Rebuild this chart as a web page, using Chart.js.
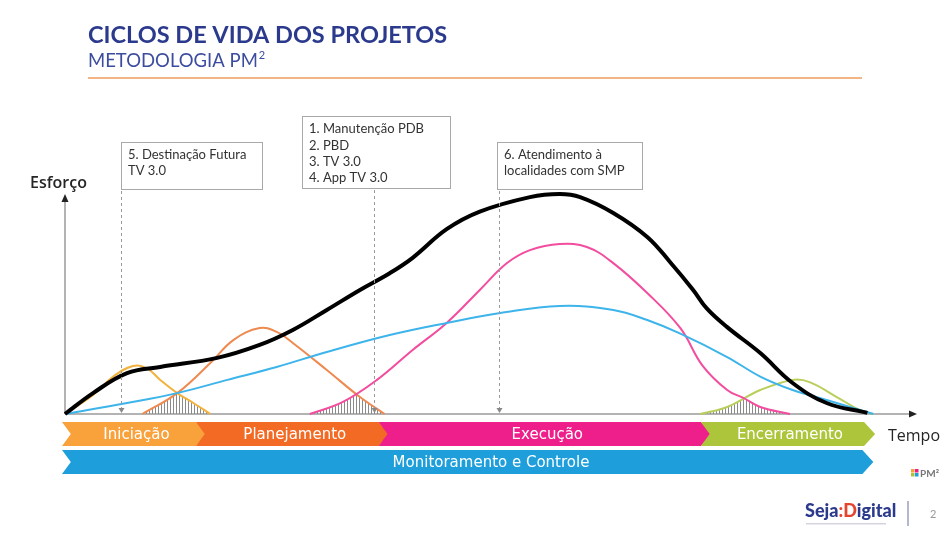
<!DOCTYPE html>
<html>
<head>
<meta charset="utf-8">
<script src="https://cdn.jsdelivr.net/npm/chart.js@4"></script>
<style>
  html, body { margin: 0; padding: 0; background: #fff; }
  canvas { display: block; }
</style>
</head>
<body>
<canvas id="ciclo" width="946" height="539"></canvas>
<script>
// [tempo, esforço] on a 0-100 / 0-100 grid
const esforcoTotal = [[0,0],[3.3,9.5],[7.3,18.6],[11.2,21.4],[17.9,25.5],[22.9,31.4],[26.8,38.2],[30.8,47.3],[34.7,56.4],[38.2,64],[40.9,71],[44.9,84],[48.8,92],[54.7,98.6],[58.2,100],[60.6,98.6],[64.5,91.4],[68.5,80.5],[71.2,69],[73.9,56.4],[75.5,48],[77.9,39.5],[81.8,27.7],[85.6,14.1],[89.6,5],[94.4,0.5]];
const monitoramento = [[0,0],[7.3,5],[13.2,9.5],[19.1,15.5],[24.9,21.4],[30.8,28.2],[38.2,35.9],[44.9,41.4],[51.2,45.9],[58.2,49.1],[64.5,47.3],[68.5,42.7],[72.4,36.5],[77.9,25.9],[81.8,17],[85.6,10.9],[89.6,6.4],[95.1,0]];
const execucao = [[28.8,0],[32.7,5.5],[36.7,15.5],[40.9,29.1],[44.9,41.4],[48.8,56.4],[52,68.6],[54.7,74.5],[58.2,77.3],[61.4,75.9],[64.5,68.6],[68.5,55],[72.4,39],[75,22],[77.9,10.9],[79.8,7.3],[81.8,3.2],[85.3,0]];
const planejamento = [[9.1,0],[13.2,9.5],[17.1,23.2],[19.8,33.6],[22.9,39.1],[24.9,37.3],[26.8,32.3],[30.8,20],[34.7,7.7],[37.6,0]];
const iniciacao = [[0,0],[3.3,8.6],[5.6,16.8],[8,21.8],[9.6,20.9],[11.2,15.5],[13.2,9.5],[15.1,5],[17.1,0]];
const encerramento = [[74.7,0],[77.9,3.2],[81.8,10.9],[85.6,15.5],[87.6,14.5],[90.8,7.7],[93.5,1.8],[95.1,0]];

// phase bar
const fases = ["Iniciação", "Planejamento", "Execução", "Encerramento"];
const inicioFases = -0.35;
const fimFases = [16.7, 38.2, 76.1, 95.3];
const coresFases = ["#F9A23B", "#F26A24", "#EE1F8B", "#ADC53B"];
const controle = "Monitoramento e Controle";
const fimControle = 95.1;

// notes and the moments they point at
const marcos = [6.6, 36.4, 51.1];
const notas = [
  ["5. Destinação Futura", "TV 3.0"],
  ["1. Manutenção PDB", "2. PBD", "3. TV 3.0", "4. App TV 3.0"],
  ["6. Atendimento à", "localidades com SMP"]
];
const caixas = [
  { x: 121, y: 142, w: 141, h: 47 },
  { x: 302, y: 116, w: 148, h: 72 },
  { x: 497, y: 142, w: 145, h: 47 }
];

// overlaps shaded with vertical hatching (dataset indexes)
const sobreposicoes = [[4, 3], [3, 2], [2, 5]];

const toPts = arr => arr.map(p => ({ x: p[0], y: p[1] }));

const serie = (dados, cor, largura) => ({
  data: toPts(dados),
  borderColor: cor,
  borderWidth: largura,
  pointRadius: 0,
  tension: 0.4,
  fill: false,
  clip: false
});

const slide = {
  id: "slide",
  beforeDraw(chart) {
    const ctx = chart.ctx;
    const a = chart.chartArea;
    ctx.save();
    ctx.fillStyle = "#fff";
    ctx.fillRect(0, 0, chart.width, chart.height);

    ctx.textBaseline = "middle";
    ctx.fillStyle = "#2B3A8C";
    ctx.font = "bold 23.5px Lato";
    ctx.fillText("CICLOS DE VIDA DOS PROJETOS", 88, 35);
    ctx.fillStyle = "#3C4C9E";
    ctx.font = "18.5px Lato";
    ctx.fillText("METODOLOGIA PM", 88, 61);
    const w = ctx.measureText("METODOLOGIA PM").width;
    ctx.font = "11px Lato";
    ctx.fillText("2", 88 + w + 1, 55);

    ctx.strokeStyle = "#F4B586";
    ctx.lineWidth = 2;
    ctx.beginPath();
    ctx.moveTo(88, 78);
    ctx.lineTo(862, 78);
    ctx.stroke();

    // axes
    ctx.strokeStyle = "#9a9a9a";
    ctx.lineWidth = 1.5;
    ctx.beginPath();
    ctx.moveTo(a.left, a.bottom);
    ctx.lineTo(a.left, a.top + 6);
    ctx.moveTo(a.left, a.bottom);
    ctx.lineTo(a.right - 4, a.bottom);
    ctx.stroke();
    ctx.fillStyle = "#222";
    ctx.beginPath();
    ctx.moveTo(a.left, a.top);
    ctx.lineTo(a.left - 3.5, a.top + 8);
    ctx.lineTo(a.left + 3.5, a.top + 8);
    ctx.closePath();
    ctx.fill();
    ctx.beginPath();
    ctx.moveTo(a.right + 2, a.bottom);
    ctx.lineTo(a.right - 6, a.bottom - 3.5);
    ctx.lineTo(a.right - 6, a.bottom + 3.5);
    ctx.closePath();
    ctx.fill();

    ctx.fillStyle = "#262626";
    ctx.font = "600 16px 'Open Sans'";
    ctx.fillText("Esforço", 30, 183);
    ctx.font = "16px 'Open Sans'";
    ctx.fillText("Tempo", 888, 436);

    // footer
    ctx.font = "900 18px Lato";
    let x = 805;
    const partes = [["Seja", "#2B3A8C"], [":D", "#E5452F"], ["igital", "#2B3A8C"]];
    partes.forEach(([t, c]) => {
      ctx.fillStyle = c;
      ctx.fillText(t, x, 511);
      x += ctx.measureText(t).width;
    });
    ctx.fillStyle = "#d4d4e0";
    ctx.fillRect(806, 523, 80, 1.5);
    ctx.strokeStyle = "#9aa0c0";
    ctx.lineWidth = 1.5;
    ctx.beginPath();
    ctx.moveTo(908, 501);
    ctx.lineTo(908, 526);
    ctx.stroke();
    ctx.fillStyle = "#999";
    ctx.font = "11px Lato";
    ctx.fillText("2", 930, 514);

    // PM2 mark
    const q = [["#F9A23B", 0, 0], ["#EE1F8B", 4, 0], ["#ADC53B", 0, 4], ["#1E9FDB", 4, 4]];
    q.forEach(([c, dx, dy]) => { ctx.fillStyle = c; ctx.fillRect(911 + dx, 469 + dy, 3.5, 3.5); });
    ctx.fillStyle = "#777";
    ctx.font = "bold 10px Lato";
    ctx.fillText("PM²", 920, 474);
    ctx.restore();
  },
  beforeDatasetsDraw(chart) {
    const ctx = chart.ctx;
    const a = chart.chartArea;
    sobreposicoes.forEach(([i, j]) => {
      ctx.save();
      [i, j].forEach(k => {
        const meta = chart.getDatasetMeta(k);
        const line = meta.dataset;
        line.updateControlPoints(a);
        const pts = meta.data;
        ctx.beginPath();
        line.path(ctx);
        ctx.lineTo(pts[pts.length - 1].x, a.bottom);
        ctx.lineTo(pts[0].x, a.bottom);
        ctx.closePath();
        ctx.clip();
      });
      ctx.strokeStyle = "#8a8a8a";
      ctx.lineWidth = 1;
      ctx.beginPath();
      for (let x = a.left + 0.5; x < a.right; x += 3) {
        ctx.moveTo(x, a.top);
        ctx.lineTo(x, a.bottom);
      }
      ctx.stroke();
      ctx.restore();
    });
  },
  afterDraw(chart) {
    const ctx = chart.ctx;
    const a = chart.chartArea;
    const xs = chart.scales.x;
    ctx.save();

    // phase chevrons
    const d = 11;
    const seta = (x0, x1, top, h, cor) => {
      ctx.beginPath();
      ctx.moveTo(x0, top);
      ctx.lineTo(x1 - d, top);
      ctx.lineTo(x1, top + h / 2);
      ctx.lineTo(x1 - d, top + h);
      ctx.lineTo(x0, top + h);
      ctx.lineTo(x0 + d * 0.8, top + h / 2);
      ctx.closePath();
      ctx.fillStyle = cor;
      ctx.fill();
    };
    ctx.font = "15px 'DejaVu Sans'";
    ctx.textAlign = "center";
    ctx.textBaseline = "middle";
    let x0 = xs.getPixelForValue(inicioFases);
    fases.forEach((f, i) => {
      const x1 = xs.getPixelForValue(fimFases[i]);
      seta(x0, x1, 422, 24, coresFases[i]);
      ctx.fillStyle = "#fff";
      ctx.fillText(f, (x0 + x1) / 2 + 2, 435);
      x0 = x1 - d;
    });
    const c0 = xs.getPixelForValue(inicioFases);
    const c1 = xs.getPixelForValue(fimControle);
    seta(c0, c1, 450, 24, "#1E9FDB");
    ctx.fillStyle = "#fff";
    ctx.fillText(controle, 491, 463);

    // notes
    ctx.textAlign = "left";
    caixas.forEach((b, i) => {
      ctx.fillStyle = "#fff";
      ctx.fillRect(b.x, b.y, b.w, b.h);
      ctx.strokeStyle = "#a8a8a8";
      ctx.lineWidth = 1;
      ctx.strokeRect(b.x + 0.5, b.y + 0.5, b.w, b.h);
      ctx.fillStyle = "#333";
      ctx.font = "13px Lato";
      const lh = notas[i].length > 2 ? 16.4 : 16;
      notas[i].forEach((t, k) => ctx.fillText(t, b.x + 7, b.y + 13 + k * lh));

      const mx = Math.round(xs.getPixelForValue(marcos[i])) + 0.5;
      ctx.strokeStyle = "#9a9a9a";
      ctx.setLineDash([3, 3]);
      ctx.beginPath();
      ctx.moveTo(mx, b.y + b.h + 2);
      ctx.lineTo(mx, a.bottom - 4);
      ctx.stroke();
      ctx.setLineDash([]);
      ctx.fillStyle = "#888";
      ctx.beginPath();
      ctx.moveTo(mx, a.bottom - 1);
      ctx.lineTo(mx - 3, a.bottom - 6);
      ctx.lineTo(mx + 3, a.bottom - 6);
      ctx.closePath();
      ctx.fill();
    });
    ctx.restore();
  }
};

new Chart(document.getElementById("ciclo"), {
  type: "line",
  data: {
    datasets: [
      serie(esforcoTotal, "#000", 4),
      serie(monitoramento, "#3DB4EA", 2),
      serie(execucao, "#F24D9E", 2),
      serie(planejamento, "#EE8A50", 2),
      serie(iniciacao, "#F2B23E", 2),
      serie(encerramento, "#B9CF5C", 2)
    ]
  },
  options: {
    responsive: false,
    animation: false,
    layout: { padding: { left: 65, right: 31, top: 194, bottom: 125 } },
    plugins: { legend: { display: false }, tooltip: { enabled: false } },
    scales: {
      x: { type: "linear", min: 0, max: 100, display: false },
      y: { type: "linear", min: 0, max: 100, display: false }
    }
  },
  plugins: [slide]
});
</script>
</body>
</html>
